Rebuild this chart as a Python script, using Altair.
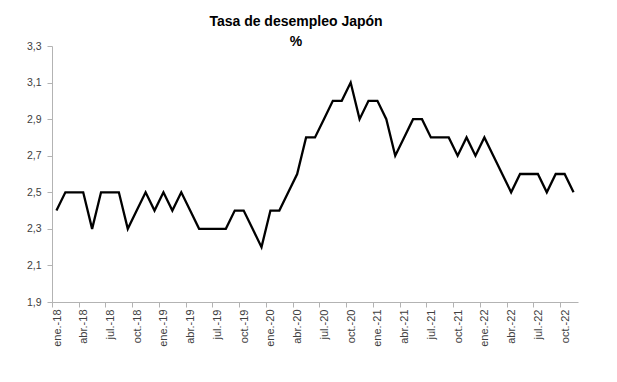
import altair as alt
import pandas as pd

# Month tick labels (Spanish abbreviations), Jan 2018 .. Nov 2022
month_names = ["ene.", "feb.", "mar.", "abr.", "may.", "jun.",
               "jul.", "ago.", "sep.", "oct.", "nov.", "dic."]
years = ["18", "19", "20", "21", "22"]
labels = [f"{m}-{y}" for y in years for m in month_names][:59]

# Unemployment rate, Japan (%)
values = [
    2.4, 2.5, 2.5, 2.5, 2.3, 2.5, 2.5, 2.5, 2.3, 2.4, 2.5, 2.4,   # 2018
    2.5, 2.4, 2.5, 2.4, 2.3, 2.3, 2.3, 2.3, 2.4, 2.4, 2.3, 2.2,   # 2019
    2.4, 2.4, 2.5, 2.6, 2.8, 2.8, 2.9, 3.0, 3.0, 3.1, 2.9, 3.0,   # 2020
    3.0, 2.9, 2.7, 2.8, 2.9, 2.9, 2.8, 2.8, 2.8, 2.7, 2.8, 2.7,   # 2021
    2.8, 2.7, 2.6, 2.5, 2.6, 2.6, 2.6, 2.5, 2.6, 2.6, 2.5,        # 2022
]

df = pd.DataFrame({"i": list(range(len(values))), "mes": labels, "v": values})

x_ticks = [-0.5 + 3 * k for k in range(20)]
y_ticks = [round(1.9 + 0.2 * k, 1) for k in range(8)]
labels_js = "[" + ",".join(f"'{l}'" for l in labels) + "]"

axis_gray = "#b3b3b3"
label_gray = "#404040"
font = "Liberation Sans"

chart = alt.Chart(df).mark_line(color="black", strokeWidth=2.3).encode(
    x=alt.X(
        "i:Q",
        scale=alt.Scale(domain=[-0.5, 58.5], nice=False, zero=False),
        axis=alt.Axis(
            values=x_ticks,
            labelExpr=labels_js + "[round(datum.value + 0.5)]",
            labelAngle=270,
            labelOffset=5,
            tickSize=5,
            labelPadding=2,
            grid=False,
            title=None,
            domainColor=axis_gray,
            tickColor=axis_gray,
            labelColor=label_gray,
            labelFont=font,
            labelFontSize=11,
            labelOverlap=False,
            labelFlush=False,
        ),
    ),
    y=alt.Y(
        "v:Q",
        scale=alt.Scale(domain=[1.9, 3.3], nice=False, zero=False),
        axis=alt.Axis(
            values=y_ticks,
            labelExpr="replace(format(datum.value, '.1f'), '.', ',')",
            tickSize=5,
            labelPadding=6,
            grid=False,
            title=None,
            domainColor=axis_gray,
            tickColor=axis_gray,
            labelColor=label_gray,
            labelFont=font,
            labelFontSize=10.5,
            labelOverlap=False,
            labelFlush=False,
        ),
    ),
).properties(
    width=526,
    height=256,
    autosize="none",
    padding={"left": 44, "top": 38, "right": 31, "bottom": 72},
    title=alt.TitleParams(
        text="Tasa de desempleo Japón",
        subtitle="%",
        font=font,
        fontSize=14,
        fontWeight="bold",
        color="black",
        subtitleFont=font,
        subtitleFontSize=14,
        subtitleFontWeight="bold",
        subtitleColor="black",
        subtitlePadding=6,
        anchor="middle",
        dx=-19,
        offset=-8,
    ),
).configure_view(stroke=None)

chart.save("out.html", embed_options={"renderer": "svg", "actions": False})
